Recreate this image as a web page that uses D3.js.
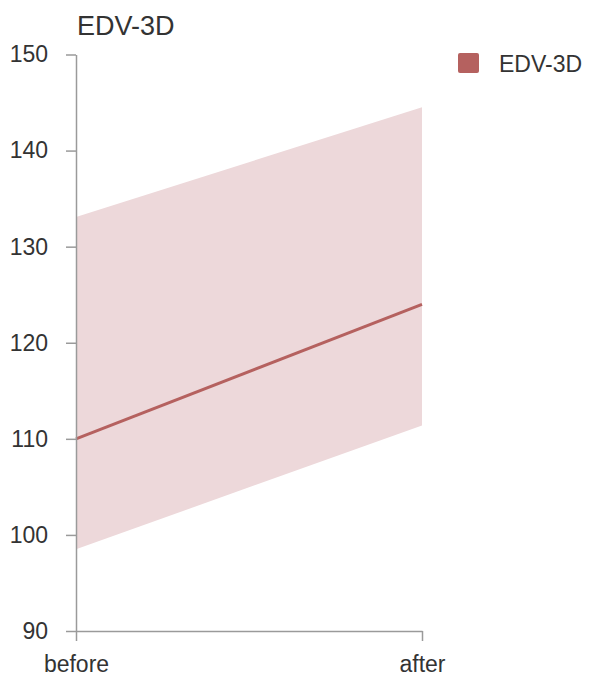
<!DOCTYPE html>
<html>
<head>
<meta charset="utf-8">
<script src="https://cdn.jsdelivr.net/npm/d3@7"></script>
<style>
  body { margin: 0; background: white; }
  text { font-family: "Liberation Sans", Arial, sans-serif; fill: #333; }
</style>
</head>
<body>
<div id="chart"></div>
<script>
const categories = ["before", "after"];
const meanValues = [110, 124];
const upperValues = [133.1, 144.5];
const lowerValues = [98.5, 111.4];
const yTicks = [90, 100, 110, 120, 130, 140, 150];
const seriesName = "EDV-3D";

const width = 590;
const height = 681;
const margin = {t: 54.5, b: 50, l: 76, r: 168};

const lineColor = "#b5615f";
const bandColor = "#edd8da";
const axisColor = "#9a9a9a";

const svg = d3.select("#chart")
    .append("svg")
    .attr("width", width)
    .attr("height", height)
    .attr("viewBox", [0, 0, width, height]);

const x = d3.scalePoint()
    .domain(categories)
    .range([margin.l, width - margin.r]);

const y = d3.scaleLinear()
    .domain([90, 150])
    .range([height - margin.b, margin.t]);

const data = categories.map((c, i) => ({
    cat: c, mean: meanValues[i], lo: lowerValues[i], hi: upperValues[i]
}));

// band
svg.append("path")
    .datum(data)
    .attr("fill", bandColor)
    .attr("d", d3.area()
        .x(d => x(d.cat))
        .y0(d => y(d.lo))
        .y1(d => y(d.hi)));

// mean line
svg.append("path")
    .datum(data)
    .attr("fill", "none")
    .attr("stroke", lineColor)
    .attr("stroke-width", 3)
    .attr("d", d3.line()
        .x(d => x(d.cat))
        .y(d => y(d.mean)));

// y axis
const yAxis = svg.append("g")
    .attr("transform", `translate(${margin.l},0)`)
    .call(d3.axisLeft(y).tickValues(yTicks).tickSize(10).tickSizeOuter(0).tickPadding(18));

// x axis
const xAxis = svg.append("g")
    .attr("transform", `translate(0,${y(90)})`)
    .call(d3.axisBottom(x).tickSize(10).tickSizeOuter(0).tickPadding(18));

[yAxis, xAxis].forEach(g => {
    g.select(".domain").attr("stroke", axisColor).attr("stroke-width", 1.5);
    g.selectAll(".tick line").attr("stroke", axisColor).attr("stroke-width", 1.5);
    g.selectAll(".tick text")
        .attr("fill", "#333")
        .style("font-family", "'Liberation Sans', Arial, sans-serif")
        .style("font-size", "23px");
});
xAxis.selectAll(".tick text").attr("dy", "0.55em");

// title
svg.append("text")
    .attr("x", 77)
    .attr("y", 35)
    .attr("font-size", "27px")
    .text(seriesName);

// legend
svg.append("rect")
    .attr("x", 458)
    .attr("y", 53)
    .attr("width", 21)
    .attr("height", 20)
    .attr("rx", 2)
    .attr("fill", lineColor);

svg.append("text")
    .attr("x", 499)
    .attr("y", 72)
    .attr("font-size", "23px")
    .text(seriesName);
</script>
</body>
</html>
